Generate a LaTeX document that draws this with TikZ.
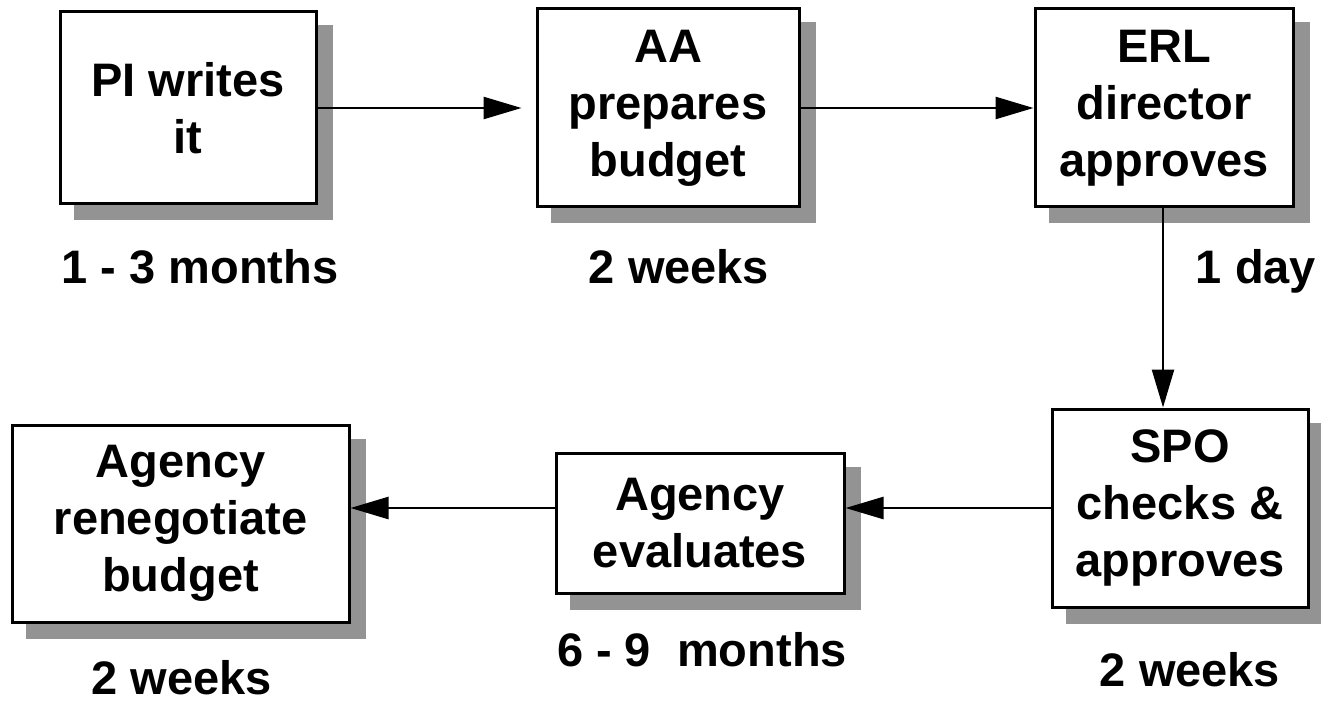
\documentclass[tikz,border=0pt]{standalone}
\usepackage{fontspec}
\setmainfont{Liberation Sans}
\usetikzlibrary{arrows.meta,backgrounds}
\definecolor{shadowgray}{RGB}{147,147,147}
\tikzset{
  stepbox/.style={draw=black, fill=white, line width=3pt, inner sep=0pt, align=center,
    font=\bfseries\fontsize{47}{57}\selectfont},
  lbl/.style={anchor=base, inner sep=0pt, font=\bfseries\fontsize{47}{57}\selectfont},
  arr/.style={line width=2.5pt, -{Triangle[length=38pt,width=22pt]}},
  shadowfill/.style={fill=shadowgray}
}
\begin{document}
\begin{tikzpicture}[x=1pt,y=-1pt]
\useasboundingbox (0,0) rectangle (1321,703);
\node[stepbox, minimum width=256pt, minimum height=192pt] (b1) at (188,108) {PI writes\\it};
\node[stepbox, minimum width=262pt, minimum height=198pt] (b2) at (668,108) {AA\\prepares\\budget};
\node[stepbox, minimum width=258pt, minimum height=198pt] (b3) at (1164,108) {ERL\\director\\approves};
\node[stepbox, minimum width=256pt, minimum height=198pt] (b4) at (1180,508) {SPO\\checks \&\\approves};
\node[stepbox, minimum width=288pt, minimum height=140pt] (b5) at (700,523) {Agency\\evaluates};
\node[stepbox, minimum width=337pt, minimum height=197pt] (b6) at (180.5,523.5) {Agency\\renegotiate\\budget};
\begin{pgfonlayer}{background}
\foreach \b in {b1,b2,b3,b4,b5,b6}{
  \fill[shadowfill] ([shift={(15,15)}]\b.south west) rectangle ([shift={(15,15)}]\b.north east);
}
\end{pgfonlayer}
\coordinate (c3) at (1163,0);
\draw[arr, shorten >=14pt] (b1.east) -- (b2.west);
\draw[arr] (b2.east) -- (b3.west);
\draw[arr] (c3 |- b3.south) -- (c3 |- b4.north);
\draw[arr] (b4.west) -- (b4.west -| b5.east);
\draw[arr] (b5.west |- b4.west) -- (b6.east |- b4.west);
\node[lbl] (l1) at (200,283) {1 - 3 months};
\node[lbl] (l2) at (679,283) {2 weeks};
\node[lbl] (l3) at (1256,283) {1 day};
\node[lbl] (l4) at (1190,686) {2 weeks};
\node[lbl] (l5) at (702,666) {6 - 9\ \ months};
\node[lbl] (l6) at (182,694) {2 weeks};
\end{tikzpicture}
\end{document}
